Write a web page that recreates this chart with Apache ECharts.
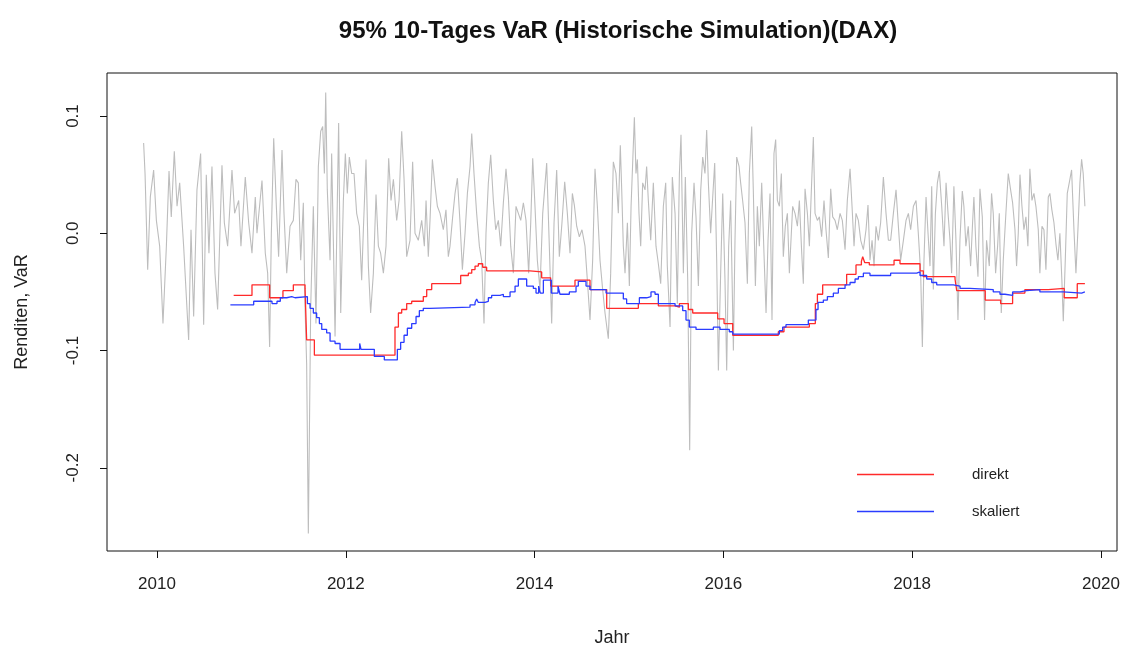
<!DOCTYPE html>
<html>
	<head>
		<meta charset="UTF-8">
		<title>VaR DAX</title>
		<style>
			html,body{margin:0;padding:0;background:#fff;}
			#charts{width:1126px;height:651px;}
		</style>
	</head>
	<body>
		<div id="charts"></div>
	</body>
	<script src="https://cdn.jsdelivr.net/npm/echarts@6.0.0/dist/echarts.min.js"></script>
	<script>
		// Achsen-Ticks
		var jahrTicks = [2010, 2012, 2014, 2016, 2018, 2020];
		var varTicks = [-0.2, -0.1, 0.0, 0.1];

		// 10-Tages Renditen [Jahr, Rendite] (grau)
		var renditen = [
			[2009.858,0.077],[2009.873,0.051],[2009.901,-0.031],[2009.929,0.031],[2009.964,0.054],[2009.993,0.011],[2010.028,-0.011],[2010.063,-0.077],[2010.099,-0.011],[2010.127,0.053],[2010.151,0.014],[2010.183,0.070],[2010.212,0.023],[2010.240,0.043],[2010.282,-0.011],[2010.335,-0.091],[2010.360,0.003],[2010.388,-0.071],[2010.423,0.037],[2010.462,0.068],[2010.494,-0.078],[2010.522,0.050],[2010.550,-0.017],[2010.582,0.057],[2010.614,-0.034],[2010.642,-0.065],[2010.688,0.058],[2010.713,0.009],[2010.748,-0.011],[2010.794,0.054],[2010.822,0.017],[2010.865,0.028],[2010.889,-0.011],[2010.935,0.048],[2010.971,0.009],[2011.006,-0.017],[2011.041,0.031],[2011.059,0],[2011.112,0.045],[2011.147,-0.017],[2011.172,-0.034],[2011.193,-0.097],[2011.211,0],[2011.236,0.081],[2011.264,0.023],[2011.288,-0.020],[2011.324,0.071],
			[2011.345,0.017],[2011.374,-0.034],[2011.409,0.006],[2011.444,0.011],[2011.472,0.046],[2011.497,0.043],[2011.522,-0.023],[2011.550,0.026],[2011.568,-0.063],[2011.585,-0.111],[2011.603,-0.256],[2011.628,-0.063],[2011.656,0.023],[2011.684,-0.077],[2011.709,0.057],[2011.734,0.087],[2011.755,0.091],[2011.773,0.051],[2011.787,0.120],[2011.804,0.037],[2011.833,-0.023],[2011.850,0.068],[2011.868,-0.006],[2011.886,-0.088],[2011.903,-0.006],[2011.924,0.094],[2011.946,-0.068],[2011.974,0.028],[2011.995,0.068],[2012.016,0.034],[2012.037,0.065],[2012.062,0.051],[2012.087,0.051],[2012.115,0.017],[2012.143,0.006],[2012.168,-0.040],[2012.186,0.003],[2012.214,0.063],[2012.239,-0.028],[2012.263,-0.068],[2012.292,-0.034],[2012.320,0.033],[2012.345,-0.011],[2012.369,-0.017],[2012.398,-0.034],[2012.426,-0.011],[2012.454,0.064],[2012.479,0.028],[2012.504,0.046],[2012.539,0.011],[2012.564,0.028],[2012.592,0.087],[2012.617,0.046],[2012.645,-0.020],[2012.680,-0.006],[2012.708,0.061],[2012.733,0],[2012.768,-0.006],[2012.804,0.011],[2012.832,-0.011],[2012.850,0.028],[2012.874,-0.020],[2012.892,0.011],[2012.917,0.063],[2012.945,0.040],[2012.970,0.023],[2012.998,0.017],[2013.033,0.003],[2013.061,0.020],[2013.086,-0.020],
			[2013.104,-0.011],[2013.132,0.014],[2013.157,0.034],[2013.182,0.047],[2013.210,0.009],[2013.235,-0.031],[2013.263,0],[2013.288,0.034],[2013.316,0.057],[2013.334,0.085],[2013.358,0.051],[2013.386,0.017],[2013.415,-0.011],[2013.439,-0.023],[2013.464,-0.077],[2013.485,0],[2013.510,0.043],[2013.535,0.067],[2013.563,0.028],[2013.588,0.003],[2013.616,0.011],[2013.641,-0.011],[2013.669,0.026],[2013.697,0.055],[2013.722,0.031],[2013.747,-0.011],[2013.775,-0.034],[2013.803,0.023],[2013.828,0.017],[2013.853,0.011],[2013.881,0.026],[2013.909,0.011],[2013.937,-0.034],[2013.959,0.009],[2013.980,0.064],[2014.004,0.023],[2014.029,-0.023],[2014.057,-0.048],[2014.086,0.017],[2014.128,0.060],[2014.156,-0.011],[2014.181,-0.077],[2014.206,0.009],[2014.234,0.054],[2014.262,-0.020],[2014.290,0.009],[2014.319,0.044],[2014.347,0.017],[2014.375,-0.017],[2014.400,0.034],[2014.421,0.024],[2014.446,0.006],[2014.474,-0.003],[2014.502,0.003],[2014.534,-0.011],[2014.559,-0.040],[2014.587,-0.074],[2014.615,-0.023],[2014.640,0.055],[2014.665,0.023],[2014.693,-0.023],[2014.721,-0.048],[2014.746,-0.068],[2014.781,-0.090],[2014.806,-0.034],[2014.834,0.061],[2014.862,0.051],[2014.887,0.017],[2014.908,0.075],
			[2014.923,0.037],[2014.940,-0.011],[2014.958,-0.034],[2014.983,0.009],[2015.004,-0.045],[2015.022,0.023],[2015.039,0.060],[2015.057,0.099],[2015.074,0.051],[2015.089,0.063],[2015.106,0.017],[2015.124,-0.011],[2015.145,0.043],[2015.170,0.037],[2015.187,0.057],[2015.205,0.028],[2015.230,-0.006],[2015.258,0.043],[2015.286,-0.011],[2015.311,-0.026],[2015.336,-0.043],[2015.364,0.023],[2015.389,0.043],[2015.406,-0.028],[2015.435,-0.080],[2015.459,0.048],[2015.488,0.017],[2015.512,-0.060],[2015.534,0.051],[2015.551,0.084],[2015.576,-0.034],[2015.597,0.048],[2015.622,-0.040],[2015.643,-0.185],[2015.664,0],[2015.689,0.043],[2015.710,0.014],[2015.735,-0.045],[2015.760,0.037],[2015.781,0.065],[2015.805,0.051],[2015.823,0.088],[2015.841,0.043],[2015.865,0],[2015.887,0.031],[2015.908,0.060],[2015.929,-0.023],[2015.947,-0.117],[2015.971,-0.034],[2015.993,0.034],[2016.017,-0.040],[2016.035,-0.117],[2016.056,-0.011],[2016.077,0.028],[2016.106,-0.100],[2016.123,-0.006],[2016.141,0.065],[2016.166,0.057],[2016.183,0.043],[2016.204,0.028],[2016.229,0.009],[2016.254,-0.043],[2016.275,0.051],[2016.300,0.091],[2016.317,0.037],[2016.339,-0.045],[2016.360,0.023],[2016.381,-0.011],[2016.406,0.043],[2016.430,-0.017],[2016.452,-0.068],[2016.473,-0.006],[2016.494,0.034],[2016.515,-0.074],[2016.536,0.068],[2016.554,0.080],[2016.572,0.028],[2016.593,0.023],[2016.614,0.051],[2016.635,-0.020],[2016.656,0.006],[2016.678,0.017],[2016.699,-0.034],
			[2016.734,0.023],[2016.759,0.017],[2016.784,0.006],[2016.805,0.028],[2016.830,-0.017],[2016.847,-0.043],[2016.865,0.038],[2016.890,0.017],[2016.911,-0.011],[2016.928,0.028],[2016.953,0.082],[2016.971,0.017],[2016.996,0.011],[2017.017,0.014],[2017.041,-0.003],[2017.066,0.028],[2017.087,0.003],[2017.112,-0.021],[2017.137,0.038],[2017.158,0.014],[2017.183,0.011],[2017.207,0.003],[2017.236,0.017],[2017.260,0.011],[2017.289,-0.014],[2017.313,0.028],[2017.342,0.055],[2017.363,0.023],[2017.384,-0.011],[2017.405,0.017],[2017.430,0.011],[2017.455,-0.006],[2017.483,-0.014],[2017.511,0.003],[2017.532,0.024],[2017.553,-0.023],[2017.575,-0.006],[2017.596,-0.028],[2017.617,0.006],[2017.642,-0.006],[2017.666,0.009],[2017.695,0.048],[2017.723,0.017],[2017.748,-0.006],[2017.772,-0.006],[2017.801,0.017],[2017.829,0.037],[2017.854,0.006],[2017.878,-0.023],[2017.907,-0.006],[2017.935,0.011],[2017.960,0.017],[2017.984,0.003],[2018.013,0.023],[2018.041,0.028],[2018.065,0],[2018.090,-0.034],[2018.108,-0.097],[2018.125,-0.023],[2018.147,0.031],[2018.168,0],[2018.189,-0.028],[2018.207,0.040],[2018.224,-0.048],[2018.246,0.017],[2018.267,0.043],[2018.288,0.053],[2018.313,0.023],[2018.337,-0.011],[2018.359,0.043],[2018.380,0.017],[2018.401,-0.006],
			[2018.418,-0.034],[2018.442,0.040],[2018.464,-0.006],[2018.485,-0.074],[2018.506,-0.006],[2018.531,0.036],[2018.548,0.023],[2018.569,-0.011],[2018.594,0.006],[2018.619,-0.028],[2018.640,0.009],[2018.654,0.031],[2018.675,-0.011],[2018.697,-0.037],[2018.718,0.038],[2018.743,0.014],[2018.767,-0.074],[2018.788,-0.006],[2018.817,-0.028],[2018.841,0.034],[2018.859,0.017],[2018.884,-0.034],[2018.905,-0.011],[2018.923,0.017],[2018.944,-0.068],[2018.965,-0.023],[2018.993,0.017],[2019.018,0.051],[2019.043,0.037],[2019.064,0.026],[2019.089,0.003],[2019.106,-0.028],[2019.124,0],[2019.142,0.050],[2019.163,0.023],[2019.184,0.003],[2019.205,0.014],[2019.226,-0.011],[2019.247,0.055],[2019.269,0.028],[2019.290,0.034],[2019.311,0.023],[2019.336,0.003],[2019.353,-0.034],[2019.375,0.006],[2019.396,0.003],[2019.417,-0.031],[2019.442,0.031],[2019.459,0.034],[2019.480,0.020],[2019.502,0.009],[2019.523,-0.009],[2019.544,-0.023],[2019.565,0],[2019.586,-0.040],[2019.601,-0.075],[2019.622,-0.023],[2019.643,0.034],[2019.664,0.043],[2019.689,0.054],[2019.714,0.003],[2019.735,-0.034],[2019.756,0.003],[2019.777,0.043],[2019.795,0.063],[2019.812,0.051],[2019.830,0.023]
		];

		// VaR direkt: [Jahr ab dem der Wert gilt, VaR]
		var direkt = [
			[2010.812,-0.053],[2011.006,-0.044],[2011.193,-0.055],[2011.334,-0.049],[2011.444,-0.044],[2011.568,-0.047],[2011.585,-0.091],[2011.667,-0.104],
			[2012.521,-0.080],[2012.557,-0.068],[2012.592,-0.065],[2012.645,-0.060],[2012.698,-0.058],[2012.821,-0.054],[2012.857,-0.048],[2012.910,-0.043],
			[2013.217,-0.036],[2013.298,-0.034],[2013.334,-0.031],[2013.369,-0.028],[2013.404,-0.026],[2013.450,-0.029],[2013.492,-0.032],[2013.951,-0.033],
			[2014.075,-0.038],[2014.170,-0.045],[2014.428,-0.040],[2014.587,-0.048],[2014.764,-0.064],
			[2015.099,-0.060],[2015.311,-0.062],[2015.488,-0.063],[2015.534,-0.060],[2015.629,-0.065],[2015.675,-0.068],[2015.940,-0.073],
			[2016.007,-0.077],[2016.099,-0.087],[2016.582,-0.084],[2016.642,-0.080],[2016.911,-0.077],[2016.974,-0.060],[2016.996,-0.052],
			[2017.052,-0.044],[2017.306,-0.035],[2017.405,-0.027],[2017.462,-0.024],[2017.476,-0.020],[2017.497,-0.025],[2017.546,-0.027],[2017.808,-0.023],[2017.871,-0.026],
			[2018.083,-0.032],[2018.118,-0.037],[2018.454,-0.039],[2018.472,-0.049],[2018.774,-0.057],[2018.937,-0.060],
			[2019.064,-0.051],[2019.194,-0.048],[2019.442,-0.047],[2019.611,-0.055],[2019.749,-0.043],[2019.830,-0.043]
		];

		// VaR skaliert
		var skaliert = [
			[2010.777,-0.061],[2011.024,-0.058],[2011.218,-0.060],[2011.271,-0.058],[2011.306,-0.055],[2011.374,-0.054],[2011.427,-0.055],[2011.462,-0.054],
			[2011.593,-0.060],[2011.621,-0.064],[2011.656,-0.068],[2011.691,-0.072],[2011.720,-0.077],[2011.745,-0.082],[2011.797,-0.085],[2011.833,-0.092],[2011.886,-0.094],[2011.939,-0.099],
			[2012.147,-0.094],[2012.161,-0.099],[2012.302,-0.105],[2012.408,-0.108],[2012.546,-0.099],[2012.581,-0.093],[2012.617,-0.087],[2012.652,-0.081],[2012.698,-0.077],[2012.744,-0.071],[2012.779,-0.066],[2012.821,-0.064],[2012.892,-0.063],
			[2013.316,-0.061],[2013.369,-0.059],[2013.386,-0.056],[2013.404,-0.059],[2013.475,-0.058],[2013.510,-0.055],[2013.545,-0.053],[2013.634,-0.052],[2013.669,-0.054],[2013.740,-0.050],[2013.793,-0.045],[2013.828,-0.039],[2013.916,-0.045],[2013.987,-0.047],
			[2014.015,-0.051],[2014.043,-0.045],[2014.061,-0.051],[2014.093,-0.040],[2014.177,-0.051],[2014.248,-0.045],[2014.269,-0.052],[2014.368,-0.050],[2014.439,-0.045],[2014.463,-0.041],[2014.545,-0.045],[2014.587,-0.048],[2014.757,-0.051],[2014.940,-0.056],[2014.975,-0.060],
			[2015.110,-0.055],[2015.187,-0.054],[2015.233,-0.050],[2015.276,-0.052],[2015.311,-0.060],[2015.488,-0.062],[2015.569,-0.066],[2015.604,-0.074],[2015.639,-0.080],[2015.710,-0.082],[2015.894,-0.080],[2015.964,-0.082],
			[2016.063,-0.084],[2016.099,-0.086],[2016.593,-0.083],[2016.628,-0.080],[2016.663,-0.078],[2016.900,-0.074],[2016.981,-0.065],
			[2017.003,-0.059],[2017.059,-0.057],[2017.102,-0.054],[2017.165,-0.051],[2017.218,-0.047],[2017.289,-0.044],[2017.342,-0.042],[2017.395,-0.039],[2017.430,-0.037],[2017.483,-0.034],[2017.553,-0.036],[2017.772,-0.034],
			[2018.048,-0.033],[2018.083,-0.036],[2018.154,-0.039],[2018.207,-0.042],[2018.260,-0.044],[2018.436,-0.045],[2018.507,-0.047],[2018.612,-0.048],[2018.859,-0.050],[2018.930,-0.052],[2018.983,-0.053],
			[2019.064,-0.050],[2019.142,-0.049],[2019.212,-0.048],[2019.353,-0.050],[2019.601,-0.051],[2019.795,-0.050],[2019.830,-0.050]
		];

		var schrift = '"Liberation Sans", Arial, Helvetica, sans-serif';
		var mycharts = echarts.init(document.getElementById('charts'));

		var option = {
			animation: false,
			backgroundColor: '#fff',
			title: {
				text: '95% 10-Tages VaR (Historische Simulation)(DAX)',
				left: 613,
				top: 14,
				textAlign: 'center',
				textStyle: {fontFamily: schrift, fontSize: 24, fontWeight: 'bold', color: '#111'}
			},
			grid: {
				left: 107, right: 9, top: 73, bottom: 100,
				show: true, borderColor: '#111', borderWidth: 1,
				outerBoundsMode: 'none'
			},
			legend: {
				data: ['direkt', 'skaliert'],
				orient: 'vertical',
				left: 852,
				top: 462,
				itemWidth: 77,
				itemHeight: 1.5,
				itemGap: 22,
				icon: 'rect',
				textStyle: {fontFamily: schrift, fontSize: 15, color: '#222', padding: [0, 0, 0, 33]}
			},
			xAxis: {
				type: 'value',
				min: 2009.47,
				max: 2020.17,
				name: 'Jahr',
				nameLocation: 'middle',
				nameGap: 78,
				nameTextStyle: {fontFamily: schrift, fontSize: 18, color: '#222'},
				axisLine: {show: false, onZero: false},
				axisTick: {show: true, customValues: jahrTicks, length: 7, lineStyle: {color: '#111'}},
				axisLabel: {customValues: jahrTicks, margin: 25, fontFamily: schrift, fontSize: 17, color: '#222',
					formatter: function (v) { return String(v); }},
				splitLine: {show: false}
			},
			yAxis: {
				type: 'value',
				min: -0.271,
				max: 0.1367,
				name: 'Renditen, VaR',
				nameLocation: 'middle',
				nameGap: 76,
				nameTextStyle: {fontFamily: schrift, fontSize: 18, color: '#222'},
				axisLine: {show: false, onZero: false},
				axisTick: {show: true, customValues: varTicks, length: 7, lineStyle: {color: '#111'}},
				axisLabel: {customValues: varTicks, rotate: 90, margin: 25, fontFamily: schrift, fontSize: 17, color: '#222',
					formatter: function (v) { return v.toFixed(1); }},
				splitLine: {show: false}
			},
			series: [
				{
					name: 'Renditen',
					type: 'line',
					data: renditen,
					symbol: 'none',
					lineStyle: {color: '#bdbdbd', width: 1.1},
					itemStyle: {color: '#bdbdbd'},
					silent: true
				},
				{
					name: 'direkt',
					type: 'line',
					step: 'end',
					data: direkt,
					symbol: 'none',
					lineStyle: {color: '#ff2a2a', width: 1.3},
					itemStyle: {color: '#ff2a2a'}
				},
				{
					name: 'skaliert',
					type: 'line',
					step: 'end',
					data: skaliert,
					symbol: 'none',
					lineStyle: {color: '#2a3cff', width: 1.3},
					itemStyle: {color: '#2a3cff'}
				}
			]
		};
		mycharts.setOption(option);
	</script>
</html>
